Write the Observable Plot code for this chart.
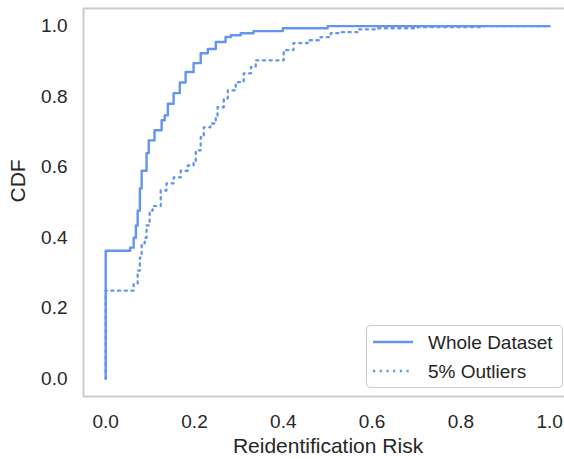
<!DOCTYPE html>
<html>
<head>
<meta charset="utf-8">
<script src="https://cdn.jsdelivr.net/npm/d3@7"></script>
<script src="https://cdn.jsdelivr.net/npm/@observablehq/plot@0.6"></script>
<style>
  html, body { margin: 0; padding: 0; background: #fff; }
  #wrap { position: relative; width: 564px; height: 459px; overflow: hidden; font-family: "Liberation Sans", Arial, sans-serif; }
  #legend { position: absolute; left: 366px; top: 325px; }
</style>
</head>
<body>
<div id="wrap"></div>
<script>
// Whole dataset CDF (step points: x, value after step)
const wholeX = [0, 0, 0.055, 0.063, 0.068, 0.072, 0.077, 0.081, 0.092, 0.097, 0.110, 0.126, 0.133, 0.140, 0.153, 0.167, 0.180, 0.198, 0.214, 0.230, 0.248, 0.270, 0.282, 0.304, 0.333, 0.399, 0.500, 1.0];
const wholeY = [0, 0.363, 0.372, 0.40, 0.435, 0.477, 0.54, 0.59, 0.64, 0.676, 0.705, 0.733, 0.747, 0.78, 0.81, 0.84, 0.87, 0.895, 0.923, 0.935, 0.955, 0.969, 0.974, 0.98, 0.986, 0.994, 1.0, 1.0];
// 5% outliers CDF
const outX = [0, 0, 0.063, 0.072, 0.077, 0.081, 0.088, 0.092, 0.099, 0.106, 0.124, 0.137, 0.153, 0.169, 0.185, 0.198, 0.203, 0.214, 0.221, 0.236, 0.248, 0.252, 0.266, 0.275, 0.293, 0.311, 0.327, 0.338, 0.401, 0.423, 0.455, 0.484, 0.507, 0.529, 0.568, 0.613, 0.703, 0.845, 1.0];
const outY = [0, 0.25, 0.27, 0.307, 0.344, 0.384, 0.40, 0.435, 0.477, 0.49, 0.534, 0.554, 0.571, 0.59, 0.605, 0.614, 0.648, 0.685, 0.713, 0.724, 0.739, 0.77, 0.795, 0.818, 0.841, 0.866, 0.884, 0.903, 0.932, 0.952, 0.96, 0.969, 0.98, 0.983, 0.991, 0.994, 0.997, 1.0, 1.0];
const xTicks = [0, 0.2, 0.4, 0.6, 0.8, 1.0];
const yTicks = [0, 0.2, 0.4, 0.6, 0.8, 1.0];
const seriesNames = ["Whole Dataset", "5% Outliers"];
const xLabel = "Reidentification Risk";
const yLabel = "CDF";

const color = "#6495ED";
const textColor = "#262626";
const font = "'Liberation Sans', Arial, sans-serif";
const dotted = "2.2,4.5";
const whole = wholeX.map((x, i) => ({x, y: wholeY[i]}));
const outl = outX.map((x, i) => ({x, y: outY[i]}));
const fmt = d3.format(".1f");

const chart = Plot.plot({
  width: 564, height: 459,
  marginLeft: 83, marginRight: 0, marginTop: 8, marginBottom: 63,
  style: {fontFamily: font, color: textColor, background: "#fff"},
  x: {domain: [-0.05, 1.0335]},
  y: {domain: [-0.05, 1.05]},
  marks: [
    Plot.axisX({ticks: xTicks, tickFormat: fmt, tickSize: 0, tickPadding: 18, label: null, fontSize: 19}),
    Plot.axisY({ticks: yTicks, tickFormat: fmt, tickSize: 0, tickPadding: 16, label: null, fontSize: 19}),
    Plot.ruleX([-0.05], {stroke: "#cccccc", strokeWidth: 2}),
    Plot.ruleY([-0.05, 1.05], {stroke: "#cccccc", strokeWidth: 2}),
    Plot.line(whole, {x: "x", y: "y", curve: "step-after", stroke: color, strokeWidth: 2.4}),
    Plot.line(outl, {x: "x", y: "y", curve: "step-after", stroke: color, strokeWidth: 2.3, strokeDasharray: dotted}),
    Plot.text([yLabel], {text: d => d, frameAnchor: "left", dx: -65, rotate: -90, fontSize: 21, fill: textColor}),
    Plot.text([xLabel], {text: d => d, frameAnchor: "bottom", dx: 4, dy: 50, lineAnchor: "middle", fontSize: 21, fill: textColor})
  ]
});
const wrap = document.getElementById("wrap");
wrap.appendChild(chart);

// Legend
const leg = document.createElement("div");
leg.id = "legend";
const ls = d3.create("svg").attr("width", 198).attr("height", 64);
ls.append("rect").attr("x", 0.5).attr("y", 0.5).attr("width", 196).attr("height", 62).attr("rx", 4)
  .attr("fill", "rgba(255,255,255,0.8)").attr("stroke", "#cccccc");
seriesNames.forEach((name, i) => {
  const y = 17 + i * 29;
  ls.append("line").attr("x1", 7).attr("x2", 47).attr("y1", y).attr("y2", y)
    .attr("stroke", color).attr("stroke-width", 2.4)
    .attr("stroke-dasharray", i === 1 ? dotted : null);
  ls.append("text").attr("x", 62).attr("y", y).attr("dy", "0.35em")
    .attr("font-size", 19).attr("fill", textColor)
    .attr("font-family", font).text(name);
});
leg.appendChild(ls.node());
wrap.appendChild(leg);
</script>
</body>
</html>
